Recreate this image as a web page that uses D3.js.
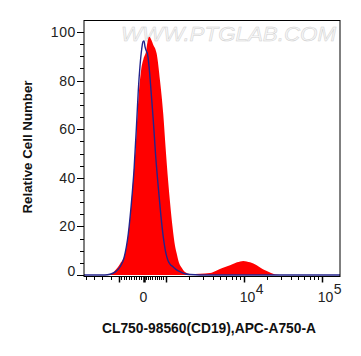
<!DOCTYPE html>
<html>
<head>
<meta charset="utf-8">
<script src="https://cdn.jsdelivr.net/npm/d3@7"></script>
<style>
  html, body { margin: 0; padding: 0; background: #fff; }
  svg { display: block; }
  text { font-family: "Liberation Sans", Arial, sans-serif; }
</style>
</head>
<body>
<svg id="chart" width="361" height="356"></svg>
<script>
// ---------- data (fluorescence channel value, relative count) ----------
const sampleValues = [-5240, -2700, -2100, -1500, -960, -755, -620, -510, -416, -306, -212, -102, 0, 114, 182, 264, 341, 432, 600, 750, 900, 1000, 1086, 1142, 1229, 1323, 1391, 1489, 1612, 1776, 2060, 2768, 3714, 4524, 5447, 6697, 8230, 9912, 12080, 14700, 17200, 19780, 22430, 25240, 29240, 171000];
const sampleCounts = [0, 0, 0.3, 1.8, 4.5, 8.8, 17, 28, 40, 55, 72, 84, 89, 92, 96, 98, 97, 95, 91, 80, 66, 53, 38, 30, 20, 12, 8.8, 5, 3, 1.2, 0.4, 0.5, 0.8, 1.9, 3, 4, 5.2, 5.8, 5.2, 4, 2.6, 1.6, 0.8, 0.2, 0, 0];

const controlValues = [-5240, -2700, -2090, -1485, -960, -796, -620, -482, -388, -278, -212, -143, -73, -20, 23, 68, 136, 182, 250, 341, 445, 545, 673, 795, 909, 1015, 1076, 1142, 1258, 1404, 1579, 1776, 2060, 2768, 171000];
const controlCounts = [0, 0, 0.3, 1.2, 3.3, 7, 17, 31, 43, 63, 76, 86, 93, 96, 96.3, 94, 92, 91, 86, 76, 63.7, 50, 36, 24, 15, 8.8, 6, 4.5, 3.3, 2, 1.2, 0.5, 0.2, 0, 0];

const yTickValues = [0, 20, 40, 60, 80, 100];
const xMajorTicks = [-1000, 0, 1000, 10000, 100000];
const xLabelTicks = [{v: 0, base: "0", exp: ""}, {v: 10000, base: "10", exp: "4"}, {v: 100000, base: "10", exp: "5"}];
const xMinorTicks = [-5000, -4000, -3000, -2000,
  -900, -800, -700, -600, -500, -400, -300, -200, -100,
  100, 200, 300, 400, 500, 600, 700, 800, 900,
  2000, 3000, 4000, 5000, 6000, 7000, 8000, 9000,
  20000, 30000, 40000, 50000, 60000, 70000, 80000, 90000];
const xTitle = "CL750-98560(CD19),APC-A750-A";
const yTitle = "Relative Cell Number";
const watermark = "WWW.PTGLAB.COM";

// ---------- layout ----------
const svg = d3.select("#chart");
const L = 84, R = 340, T = 20.5, B = 276.5;

// biexponential-like display: linear near zero, log above 10^3
const xNeg = d3.scaleLinear().domain([-5240, -1000]).range([L, 119]);
const xMid = d3.scaleLinear().domain([-1000, 0, 1000]).range([119, 143.5, 165.5]);
const xLog = d3.scaleLog().domain([1000, 171000]).range([165.5, R]);
const x = v => v < -1000 ? xNeg(v) : (v <= 1000 ? xMid(v) : xLog(v));

const y = d3.scaleLinear().domain([0, 100]).range([275, 32]);

// watermark
svg.append("text")
  .attr("x", 121).attr("y", 41)
  .attr("textLength", 215).attr("lengthAdjust", "spacingAndGlyphs")
  .attr("font-size", 20).attr("font-style", "italic")
  .attr("fill", "#f6f6f6").attr("stroke", "#cfcfcf").attr("stroke-width", 0.45)
  .text(watermark);

svg.append("clipPath").attr("id", "plotclip")
  .append("rect").attr("x", L).attr("y", T).attr("width", R - L).attr("height", B - T);

const g = svg.append("g").attr("clip-path", "url(#plotclip)");

const sample = sampleValues.map((v, i) => [v, sampleCounts[i]]);
const control = controlValues.map((v, i) => [v, controlCounts[i]]);

g.append("path")
  .datum(sample)
  .attr("fill", "#ff0000")
  .attr("d", d3.area().x(d => x(d[0])).y0(y(0)).y1(d => y(d[1])).curve(d3.curveMonotoneX));

g.append("path")
  .datum(control)
  .attr("fill", "none")
  .attr("stroke", "#23238c")
  .attr("stroke-width", 1.4)
  .attr("d", d3.line().x(d => x(d[0])).y(d => y(d[1])).curve(d3.curveMonotoneX));

// frame
svg.append("rect").attr("x", L).attr("y", T).attr("width", R - L).attr("height", B - T)
  .attr("fill", "none").attr("stroke", "#000").attr("stroke-width", 1);

// y ticks
const yMinor = d3.range(0, 101, 5);
svg.append("g").selectAll("line").data(yMinor).join("line")
  .attr("x1", d => d % 20 === 0 ? L - 7 : L - 4).attr("x2", L)
  .attr("y1", d => Math.round(y(d)) + 0.5).attr("y2", d => Math.round(y(d)) + 0.5)
  .attr("stroke", "#000").attr("stroke-width", 1);
svg.append("g").selectAll("text").data(yTickValues).join("text")
  .attr("x", 76).attr("y", d => y(d) + (d === 0 ? -4 : 0)).attr("dy", "0.36em")
  .attr("text-anchor", "end").attr("font-size", 14).attr("letter-spacing", 0.6).attr("fill", "#222")
  .text(d => d);

// x ticks
svg.append("g").selectAll("line").data(xMinorTicks).join("line")
  .attr("x1", d => Math.round(x(d)) + 0.5).attr("x2", d => Math.round(x(d)) + 0.5)
  .attr("y1", B).attr("y2", B + 3.5)
  .attr("stroke", "#000").attr("stroke-width", 1);
svg.append("g").selectAll("line").data(xMajorTicks).join("line")
  .attr("x1", d => Math.round(x(d)) + 0.5).attr("x2", d => Math.round(x(d)) + 0.5)
  .attr("y1", B).attr("y2", B + 6)
  .attr("stroke", "#000").attr("stroke-width", d => d === 0 ? 2.5 : 1.5);

const xl = svg.append("g").selectAll("text").data(xLabelTicks).join("text")
  .attr("x", d => d.exp ? x(d.v) - 4 : x(d.v))
  .attr("y", 302)
  .attr("text-anchor", d => d.exp ? "start" : "middle")
  .attr("font-size", 14).attr("fill", "#222");
xl.append("tspan").text(d => d.base);
xl.append("tspan").attr("dy", -8).attr("dx", 0.5).text(d => d.exp);

// titles
svg.append("text").attr("x", 209).attr("y", 333)
  .attr("text-anchor", "middle").attr("font-size", 13.8).attr("font-weight", "bold")
  .attr("fill", "#111").text(xTitle);
svg.append("text")
  .attr("transform", "translate(32,147) rotate(-90)")
  .attr("text-anchor", "middle").attr("font-size", 13.3).attr("font-weight", "bold")
  .attr("fill", "#111").text(yTitle);
</script>
</body>
</html>
